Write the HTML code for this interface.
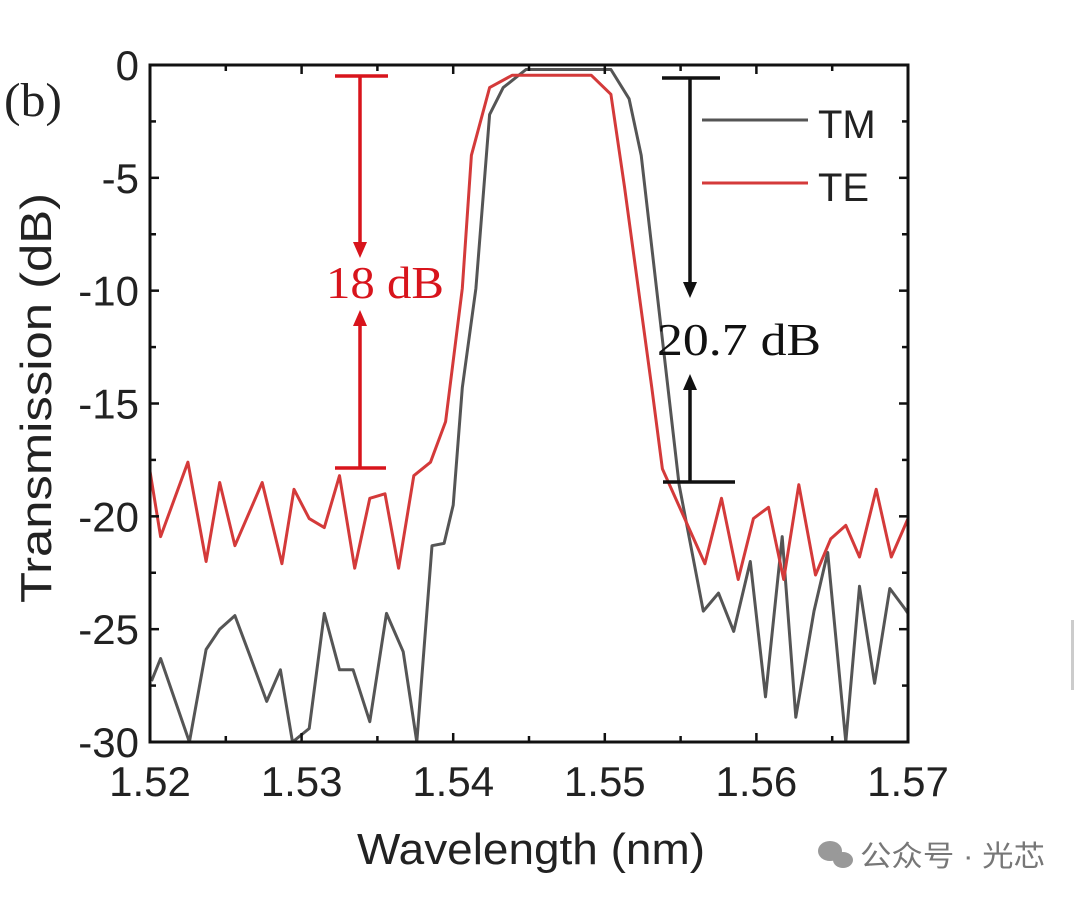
<!DOCTYPE html>
<html><head><meta charset="utf-8">
<style>
html,body{margin:0;padding:0;background:#fff;}
svg{display:block;}
</style></head>
<body>
<svg id="chart" width="1080" height="898" viewBox="0 0 1080 898" xmlns="http://www.w3.org/2000/svg">
  <rect x="0" y="0" width="1080" height="898" fill="#fff"/>
  <g id="marks"></g>
  <rect x="150" y="65" width="758" height="677" fill="none" stroke="#111" stroke-width="3"/>
  <g id="ticks"></g>
  <text x="4" y="116" font-family="Liberation Serif, serif" font-size="48" fill="#222" textLength="58" lengthAdjust="spacingAndGlyphs">(b)</text>
  <text transform="translate(51,398) rotate(-90)" text-anchor="middle" font-family="Liberation Sans, sans-serif" font-size="44" fill="#222" textLength="410" lengthAdjust="spacingAndGlyphs">Transmission (dB)</text>
  <text x="531" y="864" text-anchor="middle" font-family="Liberation Sans, sans-serif" font-size="44" fill="#222" textLength="348" lengthAdjust="spacingAndGlyphs">Wavelength (nm)</text>
  <g>
    <line x1="702" y1="120" x2="808" y2="120" stroke="#555" stroke-width="3"/>
    <text x="818" y="138" font-family="Liberation Sans, sans-serif" font-size="40" fill="#222">TM</text>
    <line x1="702" y1="183" x2="808" y2="183" stroke="#d43a3a" stroke-width="3"/>
    <text x="818" y="201" font-family="Liberation Sans, sans-serif" font-size="40" fill="#222">TE</text>
  </g>
  <g stroke="#d8141c" stroke-width="3.5" fill="#d8141c">
    <line x1="335" y1="76" x2="388" y2="76"/>
    <line x1="360" y1="76" x2="360" y2="245"/>
    <polygon points="353,242 367,242 360,258" stroke="none"/>
    <polygon points="353,326 367,326 360,310" stroke="none"/>
    <line x1="360" y1="322" x2="360" y2="468"/>
    <line x1="335" y1="468" x2="386" y2="468"/>
    <text x="326" y="298" stroke="none" font-family="Liberation Serif, serif" font-size="46" textLength="118" lengthAdjust="spacingAndGlyphs">18 dB</text>
  </g>
  <g stroke="#111" stroke-width="3.5" fill="#111">
    <line x1="662" y1="78" x2="720" y2="78"/>
    <line x1="690" y1="78" x2="690" y2="284"/>
    <polygon points="683,282 697,282 690,298" stroke="none"/>
    <polygon points="683,390 697,390 690,374" stroke="none"/>
    <line x1="690" y1="386" x2="690" y2="482"/>
    <line x1="663" y1="482" x2="735" y2="482"/>
    <text x="657" y="355" stroke="none" font-family="Liberation Serif, serif" font-size="46" textLength="164" lengthAdjust="spacingAndGlyphs">20.7 dB</text>
  </g>
  <g>
    <ellipse cx="830" cy="851" rx="12" ry="10" fill="#999"/>
    <ellipse cx="843" cy="860" rx="10" ry="8" fill="#999"/>
    <text x="860" y="866" font-family="Liberation Sans, 'Noto Sans CJK SC', sans-serif" font-size="29" fill="#777" textLength="185" lengthAdjust="spacingAndGlyphs">公众号 · 光芯</text>
  </g>
  <rect x="1071" y="620" width="3" height="70" fill="#ccc"/>
</svg>
<script>
const wl_tm = [1.5201,1.5207,1.5226,1.5237,1.5246,1.5256,1.5266,1.5277,1.5286,1.5294,1.5305,1.5315,1.5325,1.5334,1.5345,1.5356,1.5367,1.5376,1.5386,1.5394,1.5400,1.5406,1.5415,1.5424,1.5433,1.5448,1.5504,1.5516,1.5524,1.5549,1.5565,1.5575,1.5585,1.5596,1.5606,1.5617,1.5626,1.5638,1.5647,1.5659,1.5668,1.5678,1.5688,1.5698,1.5700];
const tm_db = [-27.3,-26.3,-30,-25.9,-25,-24.4,-26.2,-28.2,-26.8,-30,-29.4,-24.3,-26.8,-26.8,-29.1,-24.3,-26,-30,-21.3,-21.2,-19.5,-14.3,-9.9,-2.2,-1,-0.2,-0.2,-1.5,-4,-18.6,-24.2,-23.4,-25.1,-22,-28,-20.9,-28.9,-24.2,-21.6,-30,-23.1,-27.4,-23.2,-24.1,-24.3];
const wl_te = [1.5200,1.5207,1.5225,1.5237,1.5246,1.5256,1.5274,1.5287,1.5295,1.5305,1.5315,1.5325,1.5335,1.5345,1.5355,1.5364,1.5374,1.5385,1.5395,1.5406,1.5412,1.5424,1.5439,1.5491,1.5504,1.5513,1.5531,1.5538,1.5566,1.5577,1.5588,1.5598,1.5608,1.5618,1.5628,1.5639,1.5649,1.5659,1.5668,1.5679,1.5689,1.5700];
const te_db = [-18,-20.9,-17.6,-22,-18.5,-21.3,-18.5,-22.1,-18.8,-20.1,-20.5,-18.2,-22.3,-19.2,-19,-22.3,-18.2,-17.6,-15.8,-9.9,-4,-1,-0.45,-0.45,-1.3,-5.4,-14.3,-17.9,-22.1,-19.2,-22.8,-20.1,-19.6,-22.8,-18.6,-22.6,-21,-20.4,-21.8,-18.8,-21.8,-20.1];
const xTickVals = [1.52,1.53,1.54,1.55,1.56,1.57];
const xTickLabels = ["1.52","1.53","1.54","1.55","1.56","1.57"];
const yTickVals = [0,-5,-10,-15,-20,-25,-30];
const yTickLabels = ["0","-5","-10","-15","-20","-25","-30"];

const X0=150,X1=908,Y0=65,Y1=742;
const xs = v => X0 + (v-1.52)/(0.05)*(X1-X0);
const ys = v => Y0 + (0-v)/30*(Y1-Y0);
const NS='http://www.w3.org/2000/svg';
const marks=document.getElementById('marks');
const ticks=document.getElementById('ticks');

function series(xa,ya,color,name){
  const p=document.createElementNS(NS,'polyline');
  p.setAttribute('points', xa.map((x,i)=>xs(x).toFixed(1)+','+ys(ya[i]).toFixed(1)).join(' '));
  p.setAttribute('fill','none');p.setAttribute('stroke',color);p.setAttribute('stroke-width','3');p.setAttribute('stroke-linejoin','round');
  
  
  marks.appendChild(p);
}
const clip=document.createElementNS(NS,'clipPath');clip.id='pc';
const cr=document.createElementNS(NS,'rect');cr.setAttribute('x',X0);cr.setAttribute('y',Y0);cr.setAttribute('width',X1-X0);cr.setAttribute('height',Y1-Y0);
clip.appendChild(cr);marks.appendChild(clip);marks.setAttribute('clip-path','url(#pc)');
series(wl_tm,tm_db,'#555','tm-line');
series(wl_te,te_db,'#d43a3a','te-line');

function ln(x1,y1,x2,y2){const l=document.createElementNS(NS,'line');l.setAttribute('x1',x1);l.setAttribute('y1',y1);l.setAttribute('x2',x2);l.setAttribute('y2',y2);l.setAttribute('stroke','#111');l.setAttribute('stroke-width','2.5');ticks.appendChild(l);}
function txt(x,y,s,anchor,name){const t=document.createElementNS(NS,'text');t.setAttribute('x',x);t.setAttribute('y',y);t.setAttribute('text-anchor',anchor);t.setAttribute('font-family','Liberation Sans, sans-serif');t.setAttribute('font-size','42');t.setAttribute('fill','#222');t.textContent=s;


ticks.appendChild(t);}
for(let v=1.52;v<=1.5701;v+=0.005){const x=xs(v);const maj=Math.abs(Math.round(v*100)-v*100)<1e-6;const L=maj?9:6;ln(x,Y1,x,Y1-L);ln(x,Y0,x,Y0+L);}
for(let v=0;v>=-30;v-=2.5){const y=ys(v);const L=(v%5===0)?9:6;ln(X0,y,X0+L,y);ln(X1,y,X1-L,y);}
xTickVals.forEach((v,i)=>txt(xs(v),796,xTickLabels[i],'middle','x-tick-label'));
yTickVals.forEach((v,i)=>txt(139,ys(v)+15,yTickLabels[i],'end','y-tick-label'));
</script>
</body></html>
